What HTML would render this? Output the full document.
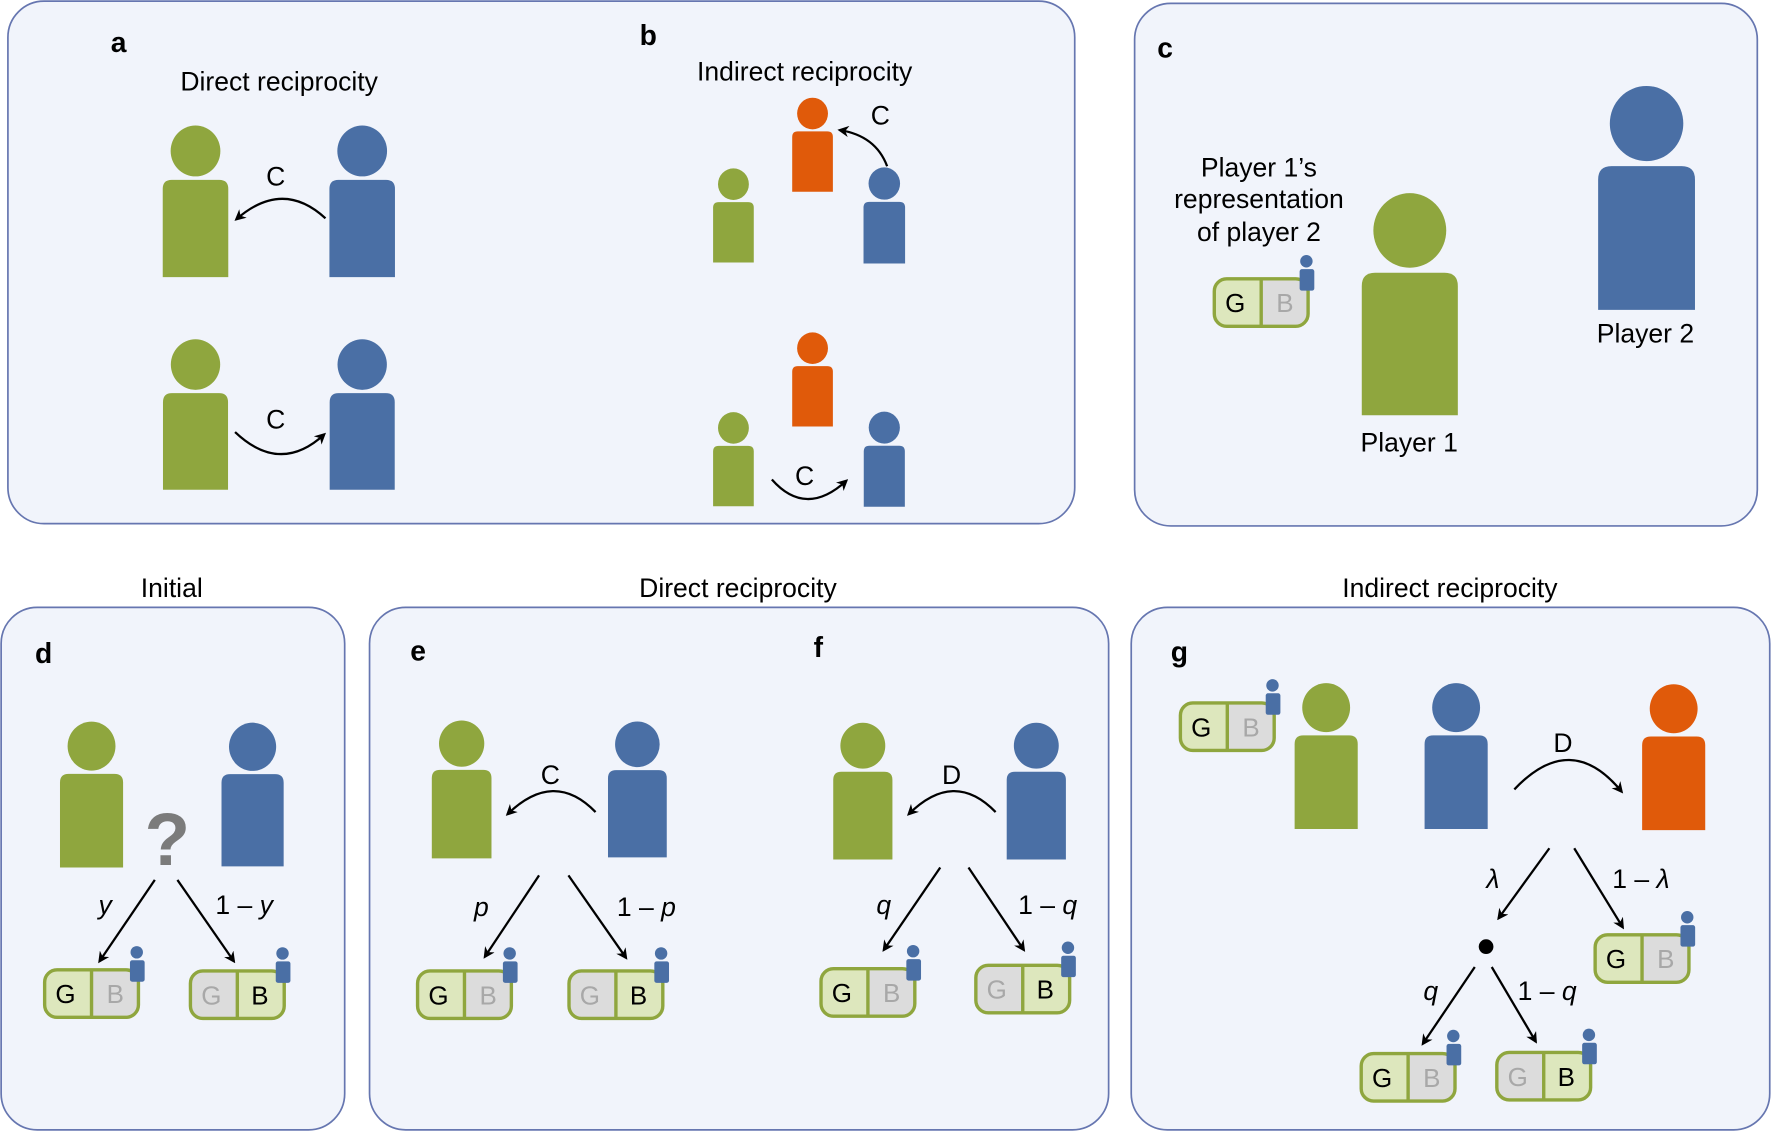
<!DOCTYPE html>
<html><head><meta charset="utf-8"><style>
html,body{margin:0;padding:0;background:#fff;}
svg{display:block;}
text{font-family:"Liberation Sans",sans-serif;fill:#000;}
.t{font-size:23.5px;text-anchor:middle;}
.lb{font-size:25px;font-weight:bold;}
.it{font-style:italic;}
symbol{overflow:visible;}
</style></head><body>
<svg width="1772" height="1131" viewBox="0 0 1568 1000" preserveAspectRatio="none" xmlns="http://www.w3.org/2000/svg">
<defs>
<marker id="ah" markerWidth="10" markerHeight="10" refX="8" refY="5" orient="auto" markerUnits="userSpaceOnUse" viewBox="0 0 10 10">
<path d="M0,0 L10,5 L0,10 L3,5 Z" fill="#000"/>
</marker>
<symbol id="p" viewBox="0 0 58 134" overflow="visible">
<ellipse cx="29" cy="22.5" rx="22" ry="22.5"/>
<path d="M0 56 Q0 48 8 48 H50 Q58 48 58 56 V134 H0 Z"/>
</symbol>
<g id="mini">
<circle cx="83" cy="-14" r="5.5" fill="#4a6fa5"/>
<rect x="77" y="-7" width="13" height="19" rx="2" fill="#4a6fa5"/>
</g>
<g id="cG">
<rect x="1.5" y="1.5" width="83" height="42" rx="11" fill="#dde7bd"/>
<path d="M43 1.5 H73.5 A11 11 0 0 1 84.5 12.5 V32.5 A11 11 0 0 1 73.5 43.5 H43 Z" fill="#dcdcdc"/>
<rect x="1.5" y="1.5" width="83" height="42" rx="11" fill="none" stroke="#8fa63e" stroke-width="3"/>
<line x1="43" y1="1.5" x2="43" y2="43.5" stroke="#8fa63e" stroke-width="3"/>
<text x="20" y="31" font-size="23" text-anchor="middle">G</text>
<text x="64" y="31" font-size="23" text-anchor="middle" style="fill:#a8a8a8">B</text>
<use href="#mini"/>
</g>
<g id="cB">
<rect x="1.5" y="1.5" width="83" height="42" rx="11" fill="#dde7bd"/>
<path d="M43 1.5 H12.5 A11 11 0 0 0 1.5 12.5 V32.5 A11 11 0 0 0 12.5 43.5 H43 Z" fill="#dcdcdc"/>
<rect x="1.5" y="1.5" width="83" height="42" rx="11" fill="none" stroke="#8fa63e" stroke-width="3"/>
<line x1="43" y1="1.5" x2="43" y2="43.5" stroke="#8fa63e" stroke-width="3"/>
<text x="20" y="31" font-size="23" text-anchor="middle" style="fill:#a8a8a8">G</text>
<text x="63" y="31" font-size="23" text-anchor="middle">B</text>
<use href="#mini"/>
</g>
</defs>

<g fill="#f1f4fb" stroke="#6676b0" stroke-width="1.5">
<rect x="7" y="1" width="944" height="462" rx="32"/>
<rect x="1004" y="3" width="551" height="462" rx="32"/>
<rect x="1" y="537" width="304" height="462" rx="32"/>
<rect x="327" y="537" width="654" height="462" rx="32"/>
<rect x="1001" y="537" width="565" height="462" rx="32"/>
</g>

<!-- a -->
<text class="lb" x="98" y="46">a</text>
<text class="t" x="247" y="80">Direct reciprocity</text>
<use href="#p" x="144" y="111" width="58" height="134" fill="#8fa63e"/>
<use href="#p" x="291" y="111" width="59" height="134" fill="#4a6fa5"/>
<use href="#p" x="144" y="300" width="58" height="133" fill="#8fa63e"/>
<use href="#p" x="291" y="300" width="59" height="133" fill="#4a6fa5"/>
<g fill="none" stroke="#000" stroke-width="2" marker-end="url(#ah)">
<path d="M288 193 Q250 158 209 194"/>
<path d="M208 382 Q248 420 287 384"/>
<path d="M785 147 Q775 120 743 115"/>
<path d="M683 424 Q713 458 749 425"/>
</g>
<text class="t" x="244" y="164">C</text>
<text class="t" x="244" y="379">C</text>

<!-- b -->
<text class="lb" x="566" y="40">b</text>
<text class="t" x="712" y="71">Indirect reciprocity</text>
<use href="#p" x="631" y="148" width="36" height="85" fill="#8fa63e"/>
<use href="#p" x="701" y="86" width="36" height="84" fill="#e05a0a"/>
<use href="#p" x="764" y="148" width="37" height="85" fill="#4a6fa5"/>
<use href="#p" x="701" y="293" width="36" height="85" fill="#e05a0a"/>
<use href="#p" x="631" y="364" width="36" height="84" fill="#8fa63e"/>
<use href="#p" x="764" y="364" width="37" height="84" fill="#4a6fa5"/>
<text class="t" x="779" y="110">C</text>
<text class="t" x="712" y="429">C</text>

<!-- c -->
<text class="lb" x="1024" y="51">c</text>
<text class="t" x="1114" y="156">Player 1’s</text>
<text class="t" x="1114" y="184">representation</text>
<text class="t" x="1114" y="213">of player 2</text>
<use href="#cG" x="1073" y="245"/>
<use href="#p" x="1205" y="170" width="85" height="198" fill="#8fa63e"/>
<use href="#p" x="1414" y="76" width="86" height="198" fill="#4a6fa5"/>
<text class="t" x="1247" y="399">Player 1</text>
<text class="t" x="1456" y="303">Player 2</text>

<text class="t" x="152" y="528">Initial</text>
<text class="t" x="653" y="528">Direct reciprocity</text>
<text class="t" x="1283" y="528">Indirect reciprocity</text>

<!-- d -->
<text class="lb" x="31" y="586">d</text>
<use href="#p" x="53" y="638" width="56" height="129" fill="#8fa63e"/>
<use href="#p" x="196" y="638" width="55" height="129" fill="#4a6fa5"/>
<text x="148" y="765" font-size="66" font-weight="bold" text-anchor="middle" style="fill:#7b7b7b">?</text>
<g fill="none" stroke="#000" stroke-width="2" marker-end="url(#ah)">
<line x1="137" y1="778" x2="88" y2="850"/>
<line x1="157" y1="778" x2="207" y2="850"/>
</g>
<text class="t it" x="93" y="808">y</text>
<text class="t" x="216" y="808">1 – <tspan font-style="italic">y</tspan></text>
<use href="#cG" x="38" y="856"/>
<use href="#cB" x="167" y="857"/>

<!-- e -->
<text class="lb" x="363" y="584">e</text>
<use href="#p" x="382" y="637" width="53" height="122" fill="#8fa63e"/>
<use href="#p" x="538" y="637" width="52" height="122" fill="#4a6fa5"/>
<g fill="none" stroke="#000" stroke-width="2" marker-end="url(#ah)">
<path d="M527 718 Q490 680 449 720"/>
<line x1="477" y1="774" x2="429" y2="846"/>
<line x1="503" y1="774" x2="554" y2="847"/>
<path d="M881 718 Q844 680 804 720"/>
<line x1="832" y1="767" x2="782" y2="840"/>
<line x1="857" y1="767" x2="906" y2="840"/>
<path d="M1340 698 Q1390 645 1435 700"/>
<line x1="1371" y1="750" x2="1326" y2="812"/>
<line x1="1393" y1="750" x2="1436" y2="820"/>
<line x1="1305" y1="855" x2="1259" y2="923"/>
<line x1="1320" y1="855" x2="1359" y2="921"/>
</g>
<text class="t" x="487" y="693">C</text>
<text class="t it" x="426" y="810">p</text>
<text class="t" x="572" y="810">1 – <tspan font-style="italic">p</tspan></text>
<use href="#cG" x="368" y="857"/>
<use href="#cB" x="502" y="857"/>

<!-- f -->
<text class="lb" x="720" y="581">f</text>
<use href="#p" x="737" y="639" width="53" height="121" fill="#8fa63e"/>
<use href="#p" x="890" y="639" width="54" height="121" fill="#4a6fa5"/>
<text class="t" x="842" y="693">D</text>
<text class="t it" x="782" y="808">q</text>
<text class="t" x="927" y="808">1 – <tspan font-style="italic">q</tspan></text>
<use href="#cG" x="725" y="855"/>
<use href="#cB" x="862" y="852"/>

<!-- g -->
<text class="lb" x="1036" y="585">g</text>
<use href="#cG" x="1043" y="620"/>
<use href="#p" x="1145" y="604" width="57" height="129" fill="#8fa63e"/>
<use href="#p" x="1260" y="604" width="57" height="129" fill="#4a6fa5"/>
<use href="#p" x="1452" y="605" width="58" height="129" fill="#e05a0a"/>
<text class="t" x="1383" y="665">D</text>
<text class="t it" x="1321" y="785">λ</text>
<text class="t" x="1452" y="785">1 – <tspan font-style="italic">λ</tspan></text>
<circle cx="1315" cy="837" r="6.5" fill="#000"/>
<use href="#cG" x="1410" y="825"/>
<text class="t it" x="1266" y="884">q</text>
<text class="t" x="1369" y="884">1 – <tspan font-style="italic">q</tspan></text>
<use href="#cG" x="1203" y="930"/>
<use href="#cB" x="1323" y="929"/>
</svg>
</body></html>
